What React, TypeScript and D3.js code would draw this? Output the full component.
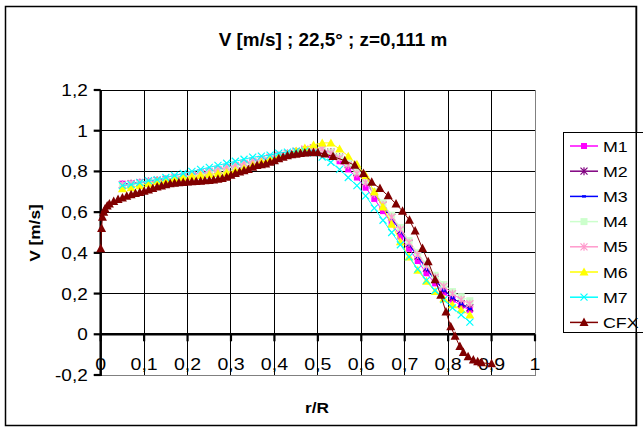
import React, { useEffect, useRef } from 'react';
import * as d3 from 'd3';

const W = 643;
const H = 432;

// r/R positions of the measured profiles M1..M7
const rM = [
  0.05, 0.07, 0.09, 0.11, 0.13, 0.15, 0.17, 0.19, 0.21, 0.23, 0.25, 0.27, 0.29, 0.31,
  0.33, 0.35, 0.37, 0.39, 0.41, 0.43, 0.45, 0.47, 0.49, 0.51, 0.53, 0.55, 0.57, 0.59,
  0.61, 0.63, 0.65, 0.67, 0.69, 0.71, 0.73, 0.75, 0.77, 0.79, 0.81, 0.83, 0.85,
];

const m1 = [
  0.74, 0.74, 0.745, 0.75, 0.755, 0.76, 0.77, 0.775, 0.785, 0.795, 0.8, 0.81, 0.82, 0.83,
  0.84, 0.85, 0.86, 0.87, 0.88, 0.89, 0.9, 0.91, 0.91, 0.9, 0.88, 0.85, 0.81, 0.77,
  0.72, 0.665, 0.605, 0.545, 0.48, 0.42, 0.36, 0.3, 0.25, 0.205, 0.17, 0.14, 0.12,
];
const m2 = [
  0.735, 0.74, 0.745, 0.75, 0.755, 0.76, 0.765, 0.77, 0.78, 0.79, 0.795, 0.805, 0.815, 0.825,
  0.835, 0.845, 0.855, 0.865, 0.875, 0.885, 0.895, 0.905, 0.915, 0.91, 0.895, 0.87, 0.835, 0.795,
  0.75, 0.695, 0.635, 0.575, 0.51, 0.445, 0.385, 0.325, 0.27, 0.22, 0.18, 0.15, 0.13,
];
const m3 = [
  0.74, 0.74, 0.745, 0.75, 0.755, 0.76, 0.765, 0.775, 0.78, 0.79, 0.8, 0.81, 0.815, 0.825,
  0.835, 0.845, 0.855, 0.865, 0.875, 0.885, 0.895, 0.905, 0.91, 0.905, 0.89, 0.865, 0.83, 0.79,
  0.745, 0.69, 0.63, 0.57, 0.505, 0.44, 0.38, 0.32, 0.265, 0.215, 0.18, 0.15, 0.125,
];
const m4 = [
  0.73, 0.735, 0.74, 0.745, 0.75, 0.755, 0.765, 0.77, 0.78, 0.79, 0.795, 0.805, 0.815, 0.825,
  0.835, 0.845, 0.855, 0.865, 0.875, 0.885, 0.895, 0.905, 0.91, 0.91, 0.895, 0.87, 0.84, 0.8,
  0.755, 0.7, 0.645, 0.585, 0.525, 0.46, 0.4, 0.345, 0.29, 0.245, 0.21, 0.185, 0.165,
];
const m5 = [
  0.735, 0.74, 0.745, 0.75, 0.755, 0.76, 0.77, 0.775, 0.785, 0.79, 0.8, 0.81, 0.82, 0.83,
  0.84, 0.85, 0.86, 0.87, 0.88, 0.89, 0.9, 0.91, 0.915, 0.91, 0.89, 0.865, 0.83, 0.79,
  0.745, 0.69, 0.635, 0.575, 0.515, 0.45, 0.39, 0.335, 0.28, 0.235, 0.2, 0.17, 0.15,
];
const m6 = [
  0.715, 0.72, 0.73, 0.74, 0.75, 0.755, 0.765, 0.77, 0.775, 0.78, 0.785, 0.79, 0.795, 0.805,
  0.815, 0.83, 0.845, 0.86, 0.875, 0.885, 0.9, 0.915, 0.93, 0.94, 0.94, 0.91, 0.875, 0.835,
  0.78, 0.7, 0.625, 0.54, 0.455, 0.38, 0.315, 0.26, 0.21, 0.175, 0.145, 0.12, 0.095,
];
const m7 = [
  0.73, 0.735, 0.745, 0.755, 0.76, 0.77, 0.78, 0.79, 0.8, 0.81, 0.82, 0.83, 0.84, 0.85,
  0.86, 0.87, 0.875, 0.88, 0.89, 0.895, 0.9, 0.9, 0.89, 0.87, 0.845, 0.81, 0.77, 0.73,
  0.68, 0.62, 0.56, 0.5, 0.44, 0.38, 0.32, 0.265, 0.215, 0.17, 0.13, 0.095, 0.06,
];

// CFX simulation
const rCfx = [
  0, 0.002, 0.004, 0.007, 0.01, 0.015, 0.02, 0.03, 0.04, 0.05, 0.06, 0.07, 0.08, 0.09,
  0.1, 0.11, 0.12, 0.13, 0.14, 0.15, 0.16, 0.17, 0.18, 0.19, 0.2, 0.21, 0.22, 0.23,
  0.24, 0.25, 0.26, 0.27, 0.28, 0.29, 0.3, 0.31, 0.32, 0.33, 0.34, 0.35, 0.36, 0.37,
  0.38, 0.39, 0.4, 0.41, 0.42, 0.43, 0.44, 0.45, 0.46, 0.47, 0.48, 0.49, 0.5, 0.516,
  0.535, 0.562, 0.585, 0.605, 0.624, 0.643, 0.662, 0.68, 0.695, 0.711, 0.724, 0.741,
  0.754, 0.77, 0.783, 0.795, 0.806, 0.816, 0.827, 0.835, 0.846, 0.858, 0.868, 0.877, 0.9,
];
const cfx = [
  0.42, 0.52, 0.575, 0.6, 0.615, 0.63, 0.64, 0.652, 0.662, 0.67, 0.678, 0.685, 0.691, 0.697,
  0.703, 0.709, 0.716, 0.723, 0.729, 0.734, 0.739, 0.742, 0.744, 0.746, 0.748, 0.749, 0.751, 0.752,
  0.754, 0.756, 0.758, 0.761, 0.765, 0.771, 0.781, 0.79, 0.797, 0.803, 0.81, 0.82, 0.829, 0.833,
  0.837, 0.845, 0.853, 0.862, 0.87, 0.877, 0.882, 0.885, 0.888, 0.89, 0.892, 0.893, 0.892, 0.886,
  0.873, 0.853, 0.83, 0.79, 0.747, 0.716, 0.68, 0.64, 0.605, 0.56, 0.507, 0.421,
  0.356, 0.268, 0.192, 0.11, 0.037, -0.01, -0.06, -0.09, -0.11, -0.126, -0.135, -0.14, -0.145,
];

const xTicks = [0, 0.1, 0.2, 0.3, 0.4, 0.5, 0.6, 0.7, 0.8, 0.9, 1];
const xTickLabels = ['0', '0,1', '0,2', '0,3', '0,4', '0,5', '0,6', '0,7', '0,8', '0,9', '1'];
const yTicks = [-0.2, 0, 0.2, 0.4, 0.6, 0.8, 1, 1.2];
const yTickLabels = ['-0,2', '0', '0,2', '0,4', '0,6', '0,8', '1', '1,2'];

const seriesNames = ['M1', 'M2', 'M3', 'M4', 'M5', 'M6', 'M7', 'CFX'];
const seriesColors = ['#FF00FF', '#800080', '#0000FF', '#CCFFCC', '#FF99CC', '#FFFF00', '#00FFFF', '#800000'];
const seriesMarkers = ['square', 'star', 'dash', 'bigsquare', 'star', 'triangle', 'cross', 'bigtriangle'];

const FONT = '"Liberation Sans", Arial, sans-serif';

const markerPath = {
  square: 'M-3,-3h6v6h-6Z',
  bigsquare: 'M-3.5,-3.5h7v7h-7Z',
  dash: 'M-2,-1.2h4v2.4h-4Z',
  triangle: 'M0,-4.5L4.5,3.5L-4.5,3.5Z',
  bigtriangle: 'M0,-5L4.5,3.5L-4.5,3.5Z',
  star: 'M-3.5,-3.5L3.5,3.5M-3.5,3.5L3.5,-3.5M0,-4V4',
  cross: 'M-3.5,-3.5L3.5,3.5M-3.5,3.5L3.5,-3.5',
};
const stroked = {star: true, cross: true};

export default function App() {
  const ref = useRef(null);

  useEffect(() => {
    const svg = d3.select(ref.current);
    svg.selectAll('*').remove();

    const x = d3.scaleLinear().domain([0, 1]).range([100.7, 535]);
    const y = d3.scaleLinear().domain([-0.2, 1.2]).range([375, 90]);

    // stretched text, the original chart is widened horizontally
    const text = (g, str, tx, ty, size, anchor, bold, rotate, sx = 1.15) => {
      g.append('text')
        .attr('transform', `translate(${tx},${ty})${rotate ? ' rotate(-90)' : ''} scale(${sx},1)`)
        .attr('text-anchor', anchor)
        .attr('font-family', FONT)
        .attr('font-size', size)
        .attr('font-weight', bold ? 'bold' : 'normal')
        .attr('fill', '#000')
        .text(str);
    };

    svg.append('rect').attr('width', W).attr('height', H).attr('fill', '#fff');
    svg.append('rect')
      .attr('x', 5.5).attr('y', 6.5).attr('width', 631).attr('height', 419)
      .attr('fill', '#fff').attr('stroke', '#000').attr('stroke-width', 1.5);

    text(svg, 'V [m/s] ; 22,5° ; z=0,111 m', 333, 46, 17.5, 'middle', true, false, 1.08);

    // plot area and grid
    const grid = svg.append('g').attr('shape-rendering', 'crispEdges');
    grid.append('rect')
      .attr('x', x(0)).attr('y', y(1.2))
      .attr('width', x(1) - x(0)).attr('height', y(-0.2) - y(1.2))
      .attr('fill', '#fff').attr('stroke', '#808080');
    grid.selectAll('line.h')
      .data(yTicks.filter(v => v > -0.2))
      .enter().append('line')
      .attr('x1', x(0)).attr('x2', x(1))
      .attr('y1', d => y(d)).attr('y2', d => y(d))
      .attr('stroke', '#000');
    grid.selectAll('line.v')
      .data(xTicks.filter(v => v > 0 && v < 1))
      .enter().append('line')
      .attr('x1', d => x(d)).attr('x2', d => x(d))
      .attr('y1', y(1.2)).attr('y2', y(-0.2))
      .attr('stroke', '#000');

    // axes
    const axes = svg.append('g');
    axes.append('line')
      .attr('x1', x(0)).attr('x2', x(1)).attr('y1', y(0)).attr('y2', y(0))
      .attr('stroke', '#000').attr('stroke-width', 2.5);
    axes.append('line')
      .attr('x1', x(0)).attr('x2', x(0)).attr('y1', y(1.2)).attr('y2', y(-0.2) + 1)
      .attr('stroke', '#000').attr('stroke-width', 2.5);
    axes.selectAll('line.xt')
      .data(xTicks)
      .enter().append('line')
      .attr('x1', d => x(d)).attr('x2', d => x(d))
      .attr('y1', y(0)).attr('y2', y(0) + 7)
      .attr('stroke', '#000').attr('stroke-width', 2.2);
    axes.selectAll('line.yt')
      .data(yTicks)
      .enter().append('line')
      .attr('x1', x(0) - 7).attr('x2', x(0))
      .attr('y1', d => y(d)).attr('y2', d => y(d))
      .attr('stroke', '#000').attr('stroke-width', 2.2);

    xTicks.forEach((v, i) => text(axes, xTickLabels[i], x(v), y(0) + 36, 17, 'middle', false, false));
    yTicks.forEach((v, i) => text(axes, yTickLabels[i], x(0) - 13, y(v) + 6, 16.5, 'end', false, false));

    text(svg, 'r/R', 317, 413, 15, 'middle', true, false);
    text(svg, 'V [m/s]', 40, 233, 15, 'middle', true, true);

    // series
    const allR = [rM, rM, rM, rM, rM, rM, rM, rCfx];
    const allV = [m1, m2, m3, m4, m5, m6, m7, cfx];
    const line = d3.line().x(d => x(d[0])).y(d => y(d[1]));

    const drawMarker = (g, kind, color, px, py) => {
      const p = g.append('path')
        .attr('d', markerPath[kind])
        .attr('transform', `translate(${px},${py})`);
      if (stroked[kind]) p.attr('fill', 'none').attr('stroke', color).attr('stroke-width', 1.2);
      else p.attr('fill', color).attr('stroke', 'none');
    };

    seriesNames.forEach((name, si) => {
      const pts = allR[si].map((r, i) => [r, allV[si][i]]);
      const g = svg.append('g');
      g.append('path')
        .attr('d', line(pts))
        .attr('fill', 'none')
        .attr('stroke', seriesColors[si])
        .attr('stroke-width', 1);
      pts.forEach(p => drawMarker(g, seriesMarkers[si], seriesColors[si], x(p[0]), y(p[1])));
    });

    // legend
    const lg = svg.append('g');
    lg.append('rect')
      .attr('x', 563.5).attr('y', 132.5).attr('width', 80).attr('height', 200)
      .attr('fill', '#fff').attr('stroke', '#000');
    seriesNames.forEach((name, i) => {
      const ly = 146 + i * 25.2;
      lg.append('line')
        .attr('x1', 570).attr('x2', 598).attr('y1', ly).attr('y2', ly)
        .attr('stroke', seriesColors[i]).attr('stroke-width', 1.5);
      drawMarker(lg, seriesMarkers[i], seriesColors[i], 584, ly);
      text(lg, name, 603, ly + 5.5, 15.5, 'start', false, false);
    });
    // outer frame right side drawn over the legend
    svg.append('line')
      .attr('x1', 636.25).attr('x2', 636.25).attr('y1', 6).attr('y2', 426)
      .attr('stroke', '#000').attr('stroke-width', 1.5);
  }, []);

  return (
    <svg
      ref={ref}
      width={W}
      height={H}
      viewBox={`0 0 ${W} ${H}`}
      style={{position: 'absolute', left: 0, top: 0}}
    />
  );
}
